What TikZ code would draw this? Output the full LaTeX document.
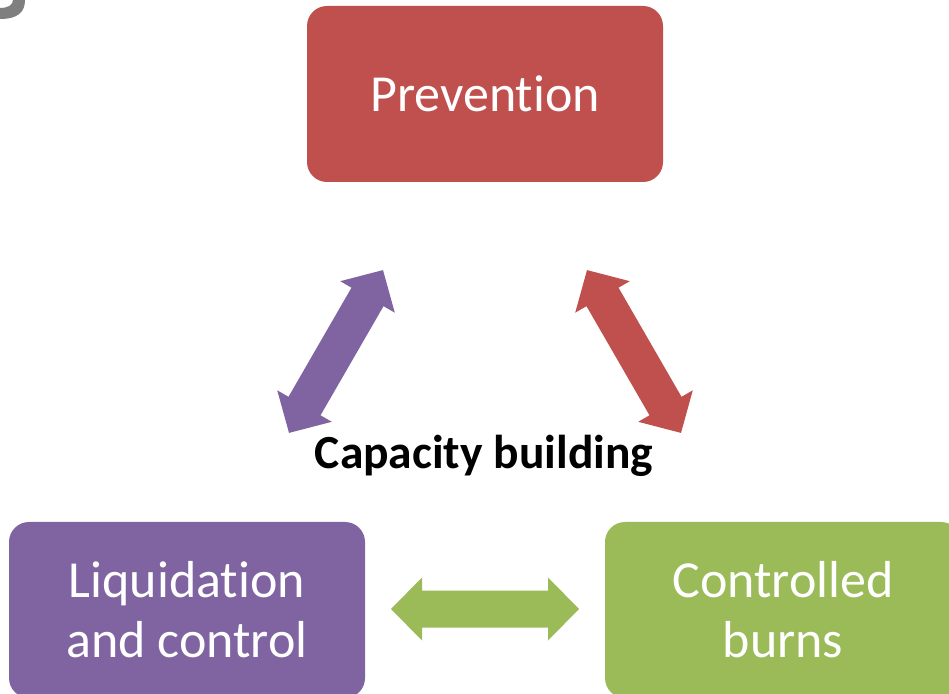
\documentclass[tikz,border=0pt]{standalone}
\usepackage{fontspec}
\setmainfont{Carlito}[Ligatures=NoCommon]
\definecolor{cred}{HTML}{C0504D}
\definecolor{cpurple}{HTML}{8064A2}
\definecolor{cgreen}{HTML}{9BBB59}
\definecolor{cgray}{HTML}{7F7F7F}
\tikzset{
  box/.style={rounded corners=20pt, minimum width=356pt, minimum height=176pt,
    inner sep=0pt, text=white, align=center, font=\fontsize{52}{60}\selectfont},
  dblarrow/.pic={\fill[#1] (-94,0) -- (-63,31.5) -- (-63,18.5) -- (63,18.5) -- (63,31.5)
    -- (94,0) -- (63,-31.5) -- (63,-18.5) -- (-63,-18.5) -- (-63,-31.5) -- cycle;}
}
\begin{document}
\begin{tikzpicture}[x=1pt,y=1pt]
\useasboundingbox (0,0) rectangle (949,693);
\clip (0,0) rectangle (949,693);
\fill[white] (0,0) rectangle (949,693);
% partial gray glyph in the corner
\fill[cgray] (25,693) .. controls (25,681) and (18,674) .. (0,674) -- (0,685)
  .. controls (8,685) and (13,688) .. (13,693) -- cycle;
\node[box, fill=cred] (prev) at (485,599) {Prevention};
\node[box, fill=cpurple] (liq) at (187,83) {Liquidation\\and control};
\node[box, fill=cgreen] (burn) at (783,83) {Controlled\\burns};
\node[anchor=base, font=\bfseries\fontsize{47.5}{54}\selectfont, inner sep=0pt] (cap) at (484,224) {Capacity building};
\path (336,341.5) pic[rotate=60] {dblarrow=cpurple};
\path (634,341.5) pic[rotate=-60] {dblarrow=cred};
\path (485,84) pic {dblarrow=cgreen};
\end{tikzpicture}
\end{document}
